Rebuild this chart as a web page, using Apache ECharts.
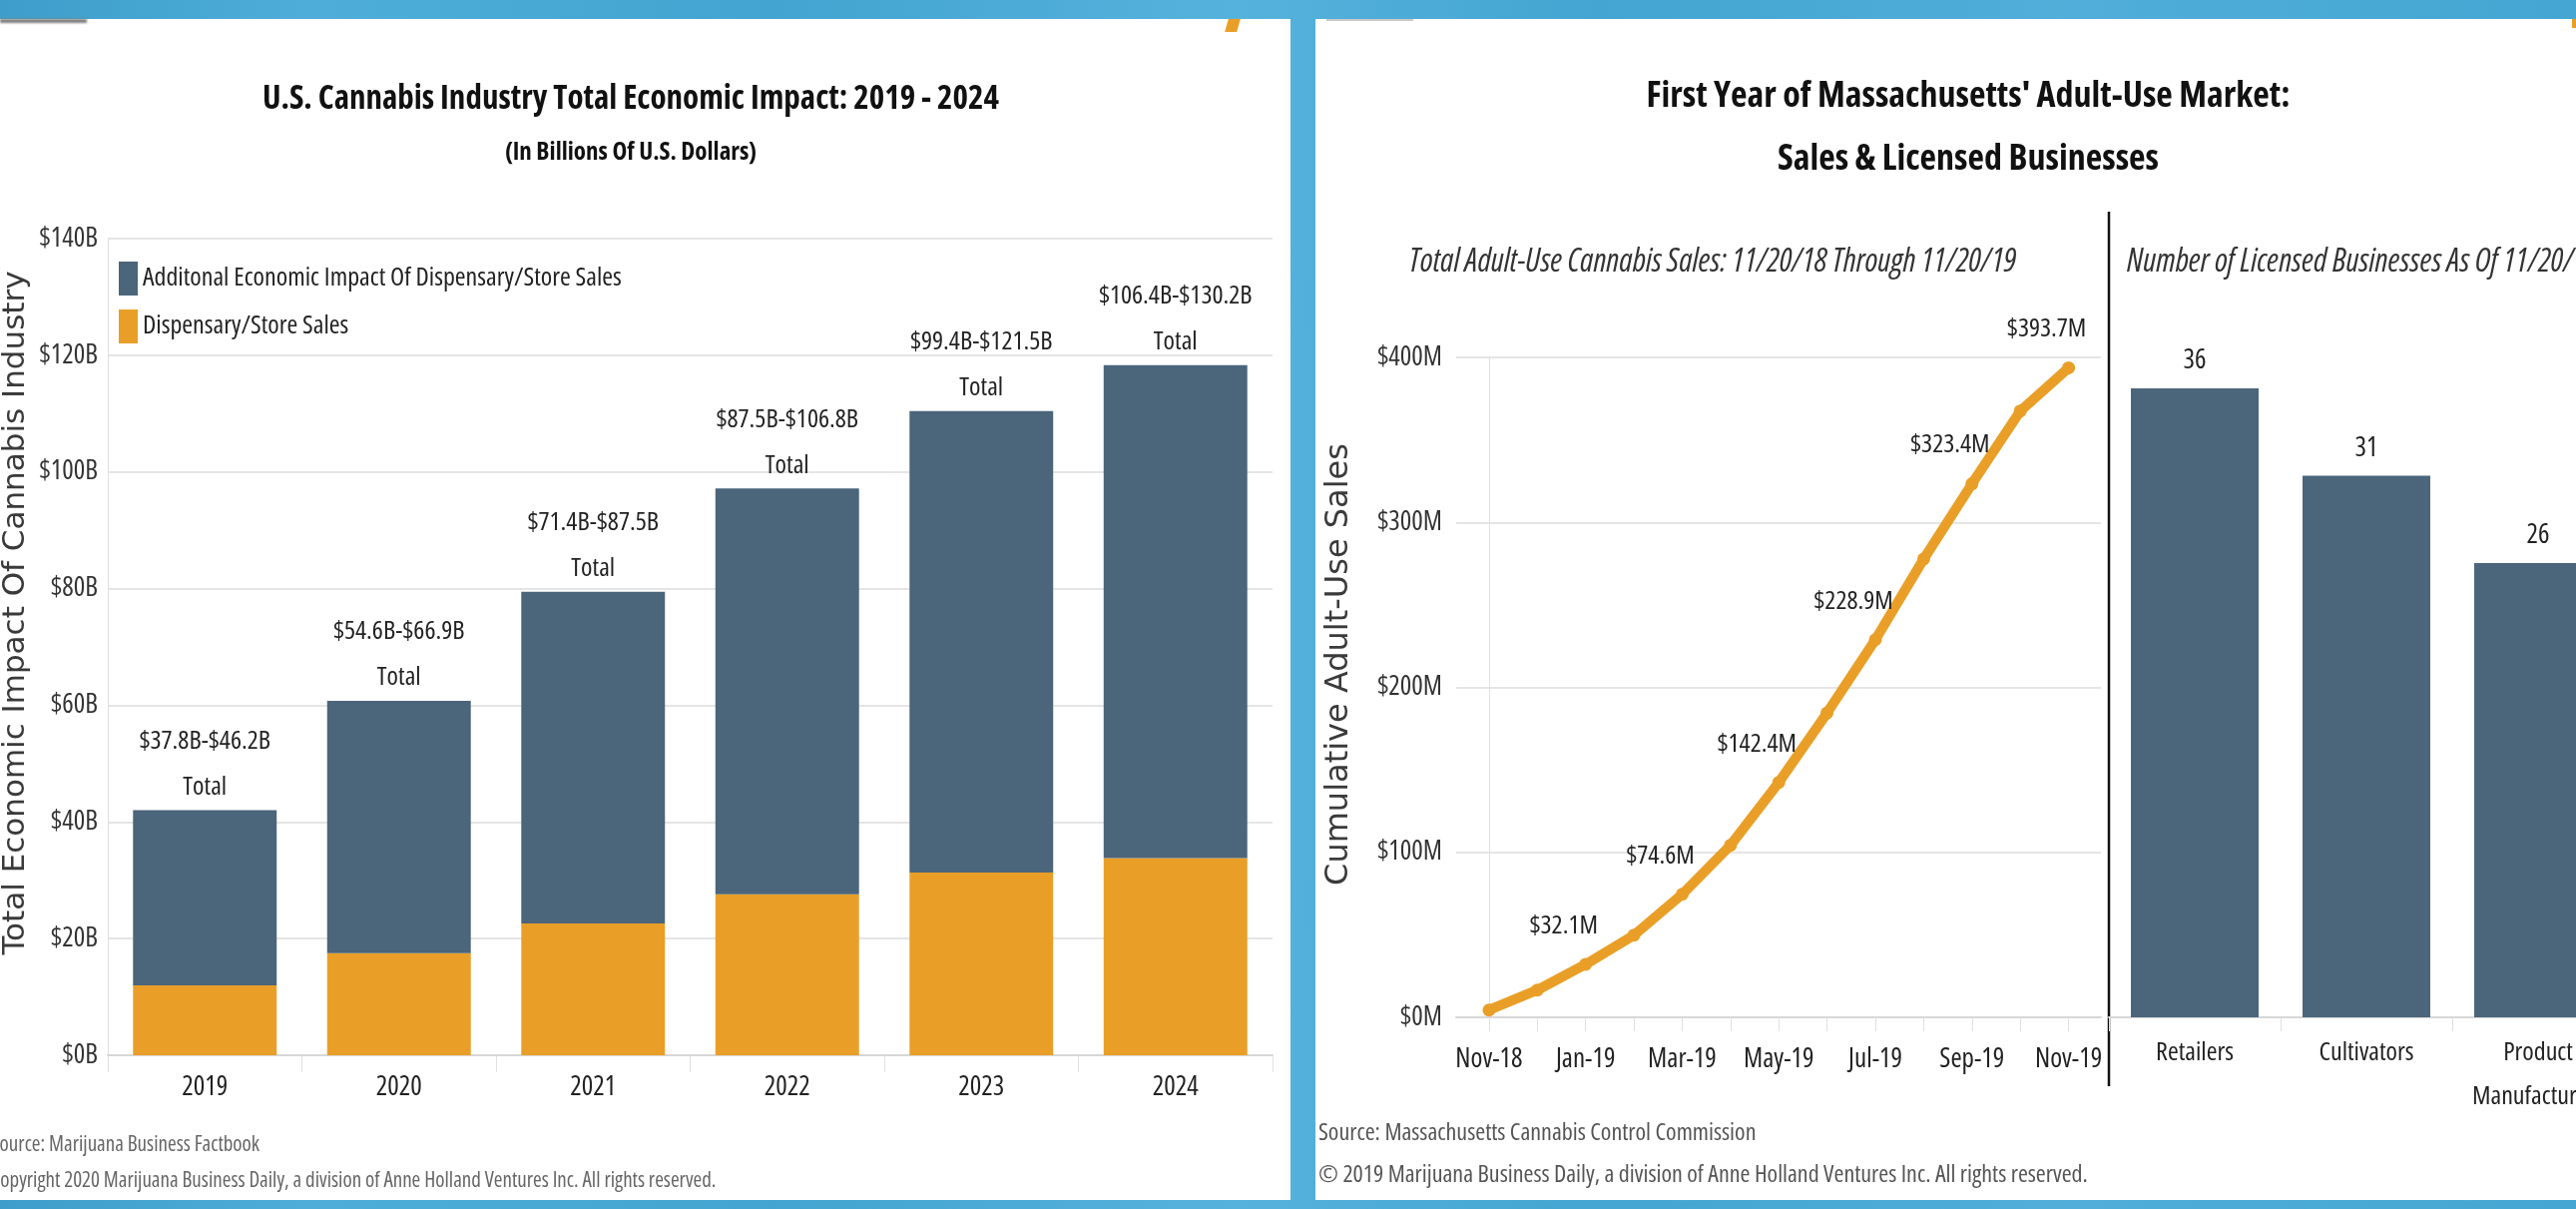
<!DOCTYPE html>
<html><head><meta charset="utf-8">
<title>U.S. Cannabis Industry Economic Impact &amp; Massachusetts Adult-Use Market</title>
<script src="https://cdn.jsdelivr.net/npm/echarts@6/dist/echarts.min.js"></script>
<style>
html,body{margin:0;padding:0;overflow:hidden}
body{width:2581px;height:1211px;position:relative;
  background:linear-gradient(90deg,#3e9dca 0%,#4eaed9 12%,#43a4d1 30%,#55b2dc 48%,#44a5d2 62%,#50aed9 80%,#45a6d3 100%)}
.panel{position:absolute;background:#fff;top:19px;height:1183px}
.deco{position:absolute}
#c{position:absolute;left:0;top:0;width:2581px;height:1211px}
</style></head>
<body>
<div class="panel" style="left:0;width:1293px"></div>
<div class="panel" style="left:1318px;width:1263px"></div>
<div class="deco" style="left:0;top:19px;width:87px;height:4px;background:#7d7d7d;filter:blur(0.8px)"></div>
<div class="deco" style="left:1229px;top:19px;width:12px;height:13px;background:#e99f27;transform:skewX(-16deg)"></div>
<div class="deco" style="left:1329px;top:19px;width:87px;height:2px;background:#c9c9c9"></div>
<div class="deco" style="left:2577px;top:19px;width:4px;height:9px;background:#e99f27"></div>
<div id="c"></div>
<script>
// ---- U.S. total economic impact, billions of dollars ----
const years = ['2019', '2020', '2021', '2022', '2023', '2024'];
const dispensarySales = [12.0, 17.5, 22.6, 27.6, 31.3, 33.8];
const totalLow = [37.8, 54.6, 71.4, 87.5, 99.4, 106.4];
const totalHigh = [46.2, 66.9, 87.5, 106.8, 121.5, 130.2];
const totalImpact = [42.0, 60.75, 79.45, 97.15, 110.45, 118.3];
const impactTicks = [0, 20, 40, 60, 80, 100, 120, 140];

// ---- Massachusetts cumulative adult-use sales, millions of dollars ----
const salesMonths = ['Nov-18', 'Dec-18', 'Jan-19', 'Feb-19', 'Mar-19', 'Apr-19', 'May-19',
  'Jun-19', 'Jul-19', 'Aug-19', 'Sep-19', 'Oct-19', 'Nov-19'];
const cumulativeSales = [4.4, 16.5, 32.1, 49.8, 74.6, 104.3, 142.4, 184.5, 228.9, 277.8, 323.4, 367.5, 393.7];
const labelledMonths = ['Jan-19', 'Mar-19', 'May-19', 'Jul-19', 'Sep-19', 'Nov-19'];
const monthAxisLabels = ['Nov-18', 'Jan-19', 'Mar-19', 'May-19', 'Jul-19', 'Sep-19', 'Nov-19'];
const salesTicks = [0, 100, 200, 300, 400];

// ---- Licensed businesses as of 11/20/19 ----
const businessTypes = ['Retailers', 'Cultivators', 'Product\nManufacturers'];
const businessCounts = [36, 31, 26];

const NAME_EXTRA = 'Additonal Economic Impact Of Dispensary/Store Sales';
const NAME_STORE = 'Dispensary/Store Sales';

const BLUE = '#4b657a';
const ORANGE = '#e99f27';
const GRID_LINE = '#e5e5e5';
const AXIS_LINE = '#d7d7d7';
const FONT = 'Open Sans';
const cond = (size, extra) => Object.assign({fontFamily: FONT, fontStyle: 'condensed', fontSize: size, color: '#333'}, extra || {});

const extraImpact = totalImpact.map((t, i) => +(t - dispensarySales[i]).toFixed(2));
const rangeText = i => '$' + totalLow[i].toFixed(1) + 'B-$' + totalHigh[i].toFixed(1) + 'B';

function txt(x, y, text, font, fill, align) {
  return {type: 'text', x: x, y: y, silent: true,
    style: {text: text, font: font, fill: fill, align: align || 'center', verticalAlign: 'middle',
      textAlign: align || 'center', textVerticalAlign: 'middle'}};
}

const chart = echarts.init(document.getElementById('c'), null, {renderer: 'canvas'});
chart.setOption({
  backgroundColor: 'transparent',
  animation: false,
  textStyle: {fontFamily: FONT},
  legend: {
    orient: 'vertical', left: 114, top: 257, itemWidth: 19, itemHeight: 34, itemGap: 14,
    icon: 'rect', data: [NAME_EXTRA, NAME_STORE], selectedMode: false,
    textStyle: cond(26, {color: '#222'})
  },
  grid: [
    {left: 108, right: 1306, top: 239, bottom: 154, outerBoundsMode: 'none'},
    {left: 1459, right: 476, top: 358, bottom: 192, outerBoundsMode: 'none'},
    {left: 2113, right: -48, top: 319, bottom: 192, outerBoundsMode: 'none'}
  ],
  xAxis: [
    {type: 'category', gridIndex: 0, data: years, boundaryGap: true,
      axisLine: {lineStyle: {color: AXIS_LINE, width: 2}},
      axisTick: {show: true, length: 17, lineStyle: {color: '#e0e0e0', width: 1}},
      axisLabel: cond(27, {margin: 15, lineHeight: 34, color: '#222'}),
      splitLine: {show: false}},
    {type: 'value', gridIndex: 1, min: -0.68, max: 12.67,
      axisLine: {onZero: false, lineStyle: {color: AXIS_LINE, width: 2}},
      axisTick: {show: true, length: 14, lineStyle: {color: '#e0e0e0', width: 1},
        customValues: salesMonths.map((m, i) => i)},
      axisLabel: cond(27, {margin: 25, lineHeight: 34, color: '#222',
        customValues: monthAxisLabels.map(m => salesMonths.indexOf(m)),
        formatter: v => salesMonths[Math.round(v)]}),
      splitLine: {show: false}},
    {type: 'category', gridIndex: 2, data: businessTypes, boundaryGap: true,
      axisLine: {lineStyle: {color: AXIS_LINE, width: 2}},
      axisTick: {show: true, length: 14, lineStyle: {color: '#e0e0e0', width: 1}},
      axisLabel: cond(26, {margin: 14, lineHeight: 44, interval: 0, color: '#222'}),
      splitLine: {show: false}}
  ],
  yAxis: [
    {type: 'value', gridIndex: 0, min: impactTicks[0], max: impactTicks[impactTicks.length - 1],
      interval: impactTicks[1] - impactTicks[0],
      name: 'Total Economic Impact Of Cannabis Industry', nameLocation: 'middle', nameRotate: 90, nameGap: 77,
      nameTextStyle: {fontFamily: 'DejaVu Sans', fontSize: 31, color: '#3a3a3a', padding: [0, 0, 0, 68]},
      axisLine: {show: true, lineStyle: {color: '#e0e0e0', width: 1}},
      axisTick: {show: false},
      axisLabel: cond(27, {margin: 10, formatter: v => '$' + v + 'B'}),
      splitLine: {show: true, lineStyle: {color: GRID_LINE, width: 2}}},
    {type: 'value', gridIndex: 1, min: salesTicks[0], max: salesTicks[salesTicks.length - 1],
      interval: salesTicks[1] - salesTicks[0],
      name: 'Cumulative Adult-Use Sales', nameLocation: 'middle', nameRotate: 90, nameGap: 101,
      nameTextStyle: {fontFamily: 'DejaVu Sans', fontSize: 32, color: '#3a3a3a', padding: [0, 0, 0, 46]},
      axisLine: {show: true, lineStyle: {color: '#e0e0e0', width: 1}},
      axisTick: {show: false},
      axisLabel: cond(27, {margin: 14, formatter: v => '$' + v + 'M'}),
      splitLine: {show: true, lineStyle: {color: GRID_LINE, width: 2}}},
    {type: 'value', gridIndex: 2, min: 0, max: 40, show: false}
  ],
  series: [
    {name: NAME_STORE, type: 'bar', xAxisIndex: 0, yAxisIndex: 0, stack: 'impact',
      data: dispensarySales, barCategoryGap: '26%', itemStyle: {color: ORANGE}},
    {name: NAME_EXTRA, type: 'bar', xAxisIndex: 0, yAxisIndex: 0, stack: 'impact',
      data: extraImpact, barCategoryGap: '26%', itemStyle: {color: BLUE},
      label: {show: true, position: 'top', distance: 0,
        formatter: p => rangeText(p.dataIndex) + '\nTotal',
        ...cond(26, {lineHeight: 46, color: '#222'})}},
    {name: 'Cumulative Adult-Use Sales', type: 'line', xAxisIndex: 1, yAxisIndex: 1,
      data: cumulativeSales.map((v, i) => ({value: [i, v],
        label: {show: labelledMonths.indexOf(salesMonths[i]) >= 0}})),
      symbol: 'circle', symbolSize: 13, showSymbol: true,
      lineStyle: {color: ORANGE, width: 10}, itemStyle: {color: ORANGE},
      label: {position: 'top', offset: [-22, -14],
        formatter: p => '$' + p.value[1].toFixed(1) + 'M', ...cond(26, {color: '#222'})}},
    {name: 'Licensed Businesses', type: 'bar', xAxisIndex: 2, yAxisIndex: 2,
      data: businessCounts, barCategoryGap: '25.6%', itemStyle: {color: BLUE},
      label: {show: true, position: 'top', distance: 14, ...cond(27, {color: '#222'})}}
  ],
  graphic: [
    txt(632, 100, 'U.S. Cannabis Industry Total Economic Impact: 2019 - 2024', 'condensed bold 33px "Open Sans"', '#111'),
    txt(632, 153, '(In Billions Of U.S. Dollars)', 'condensed bold 25px "Open Sans"', '#111'),
    txt(-9, 1147, 'Source: Marijuana Business Factbook', 'condensed 21px "Open Sans"', '#666', 'left'),
    txt(-9, 1183, 'Copyright 2020 Marijuana Business Daily, a division of Anne Holland Ventures Inc. All rights reserved.', 'condensed 21px "Open Sans"', '#666', 'left'),
    txt(1972, 97, "First Year of Massachusetts' Adult-Use Market:", 'condensed bold 36px "Open Sans"', '#111'),
    txt(1972, 160, 'Sales & Licensed Businesses', 'condensed bold 36px "Open Sans"', '#111'),
    txt(1716, 263, 'Total Adult-Use Cannabis Sales: 11/20/18 Through 11/20/19', 'italic condensed 32px "Open Sans"', '#333'),
    txt(2131, 263, 'Number of Licensed Businesses As Of 11/20/19', 'italic condensed 32px "Open Sans"', '#333', 'left'),
    txt(1321, 1135, 'Source: Massachusetts Cannabis Control Commission', 'condensed 24px "Open Sans"', '#555', 'left'),
    txt(1321, 1177, '\u00a9 2019 Marijuana Business Daily, a division of Anne Holland Ventures Inc. All rights reserved.', 'condensed 24px "Open Sans"', '#555', 'left'),
    {type: 'line', silent: true, shape: {x1: 2113, y1: 212, x2: 2113, y2: 1088},
      style: {stroke: '#111', lineWidth: 2.5}}
  ]
});
</script></body></html>
